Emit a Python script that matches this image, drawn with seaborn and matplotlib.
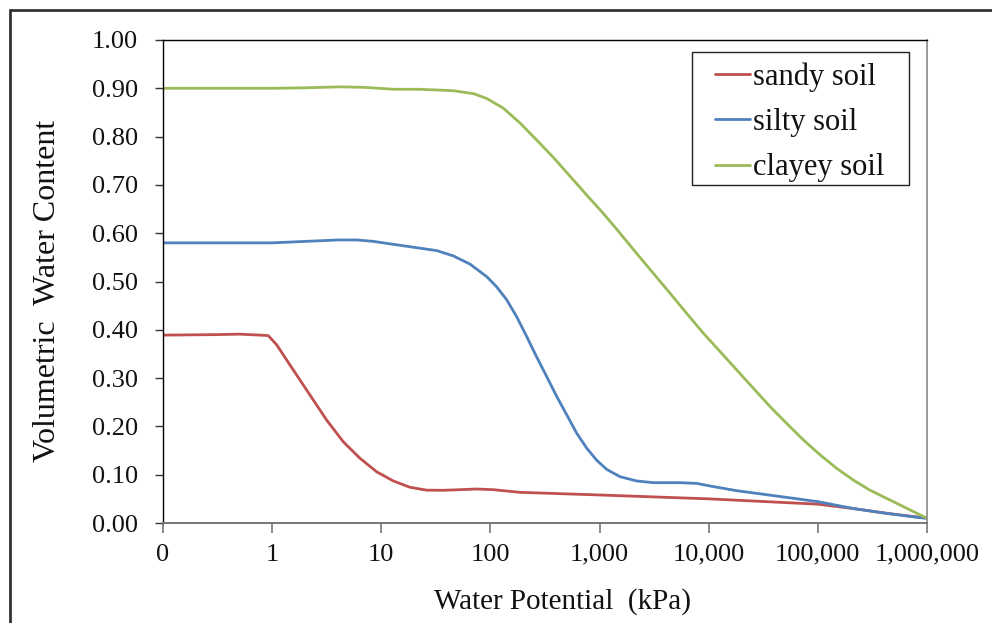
import matplotlib
matplotlib.use("Agg")
import matplotlib.pyplot as plt
import seaborn as sns
import pandas as pd
from matplotlib.lines import Line2D
from matplotlib.patches import Rectangle

# ---- data ----
sandy_x = [0.1, 0.3, 0.5, 0.77, 0.92, 1.10, 1.56, 2.22, 3.16, 4.49, 6.38, 9.07, 12.9,
           18.3, 26, 37, 52.6, 74.8, 106, 186, 1000, 10000, 100000, 210000, 427000, 1000000]
sandy_y = [0.389, 0.390, 0.391, 0.389, 0.388, 0.369, 0.317, 0.265, 0.213, 0.168, 0.134,
           0.106, 0.087, 0.074, 0.068, 0.0677, 0.069, 0.0704, 0.069, 0.0635, 0.058, 0.050,
           0.039, 0.030, 0.020, 0.010]

silty_x = [0.1, 1, 2, 4, 6, 8.5, 12, 22.6, 32.2, 45.7, 65, 92.5, 114, 141, 174, 215, 265,
           328, 405, 500, 617, 762, 941, 1162, 1540, 2188, 3105, 5458, 7762, 10280,
           18030, 51880, 101000, 211000, 427000, 860000, 1000000]
silty_y = [0.580, 0.580, 0.583, 0.586, 0.586, 0.583, 0.578, 0.569, 0.564, 0.553, 0.536,
           0.510, 0.489, 0.462, 0.427, 0.386, 0.344, 0.303, 0.262, 0.224, 0.186, 0.155,
           0.130, 0.111, 0.0959, 0.087, 0.0835, 0.0835, 0.082, 0.0766, 0.0669, 0.053,
           0.044, 0.030, 0.020, 0.011, 0.010]

clayey_x = [0.1, 1, 2, 4.2, 7, 13, 22.6, 45.7, 69.7, 92.5, 131, 187, 265, 377, 536, 762,
            1081, 1540, 2188, 3105, 4415, 6280, 8930, 12700, 18030, 25650, 36480, 51880,
            73650, 105000, 149000, 211000, 300000, 427000, 607000, 860000, 1000000]
clayey_y = [0.900, 0.900, 0.901, 0.903, 0.902, 0.898, 0.898, 0.895, 0.889, 0.879, 0.859,
            0.828, 0.793, 0.757, 0.718, 0.679, 0.641, 0.600, 0.558, 0.517, 0.476, 0.434,
            0.393, 0.355, 0.317, 0.279, 0.241, 0.206, 0.172, 0.141, 0.113, 0.089, 0.068,
            0.051, 0.034, 0.017, 0.010]

series_names = ["sandy soil", "silty soil", "clayey soil"]
series_colors = ["#C0504D", "#4F81BD", "#9BBB59"]

x_ticks = [0.1, 1, 10, 100, 1000, 10000, 100000, 1000000]
x_tick_labels = ["0", "1", "10", "100", "1,000", "10,000", "100,000", "1,000,000"]
y_ticks = [0.0, 0.1, 0.2, 0.3, 0.4, 0.5, 0.6, 0.7, 0.8, 0.9, 1.0]

frames = []
for name, xs, ys in zip(series_names, [sandy_x, silty_x, clayey_x],
                        [sandy_y, silty_y, clayey_y]):
    frames.append(pd.DataFrame({"potential": xs, "water": ys, "soil": name}))
df = pd.concat(frames, ignore_index=True)

sns.set_theme(style="white")
plt.rcParams["font.family"] = ["Liberation Serif", "DejaVu Serif"]

fig = plt.figure(figsize=(9.92, 6.23), dpi=100)
W, H = 992, 623
ax = fig.add_axes([163 / W, 1 - 523 / H, (927 - 163) / W, (523 - 40) / H])

sns.lineplot(data=df, x="potential", y="water", hue="soil", hue_order=series_names,
             palette=dict(zip(series_names, series_colors)), estimator=None, sort=False,
             linewidth=2.0, ax=ax)

ax.set_xscale("log")
ax.set_xlim(0.1, 1e6)
ax.set_ylim(0, 1.0)
ax.set_xticks(x_ticks)
ax.set_xticklabels(x_tick_labels)
ax.xaxis.set_minor_locator(matplotlib.ticker.NullLocator())
ax.set_yticks(y_ticks)
ax.set_yticklabels([f"{v:.2f}" for v in y_ticks])

ax.tick_params(axis="y", which="major", direction="out", length=6, width=1.0,
               color="#333333", pad=12, labelsize=19, left=True, right=False)
ax.tick_params(axis="x", which="major", direction="out", length=7, width=1.2,
               color="#777777", pad=8, labelsize=19, bottom=True, top=False)
for lab in ax.get_xticklabels() + ax.get_yticklabels():
    lab.set_color("#111111")

for side, col, lw in [("left", "black", 1.0), ("top", "black", 1.0),
                      ("right", "#888888", 1.2), ("bottom", "#777777", 1.4)]:
    ax.spines[side].set_visible(True)
    ax.spines[side].set_color(col)
    ax.spines[side].set_linewidth(lw)

ax.set_xlabel("Water Potential  (kPa)", fontsize=21, color="#111111")
ax.set_ylabel("Volumetric  Water Content", fontsize=23, color="#111111")
ax.xaxis.set_label_coords((563 - 163) / 764, -0.135)
ax.yaxis.set_label_coords((62 - 163) / 764, 0.48)

# legend: text/handles without auto frame, framed with a rectangle of the reference size
leg = ax.legend(loc="upper left", bbox_to_anchor=((715 - 163) / 764, (523 - 62) / 483),
                borderaxespad=0, borderpad=0, fontsize=22, frameon=False,
                handlelength=1.15, handletextpad=0.1, labelspacing=0.54, title=None)
for t in leg.get_texts():
    t.set_color("#111111")
ax.add_patch(Rectangle(((692 - 163) / 764, (523 - 185) / 483), (909 - 692) / 764,
                       (185 - 52) / 483, transform=ax.transAxes, fill=True,
                       facecolor="white", edgecolor="#222222", linewidth=1.0, zorder=4))
leg.set_zorder(5)

# outer frame of the figure
fig.add_artist(Line2D([10 / W, 10 / W], [0, 1 - 9.5 / H], transform=fig.transFigure,
                      color="#333333", linewidth=2.0))
fig.add_artist(Line2D([10 / W, 1], [1 - 9.5 / H, 1 - 9.5 / H], transform=fig.transFigure,
                      color="#333333", linewidth=2.0))

fig.savefig("out.png", dpi=100, facecolor="white")
